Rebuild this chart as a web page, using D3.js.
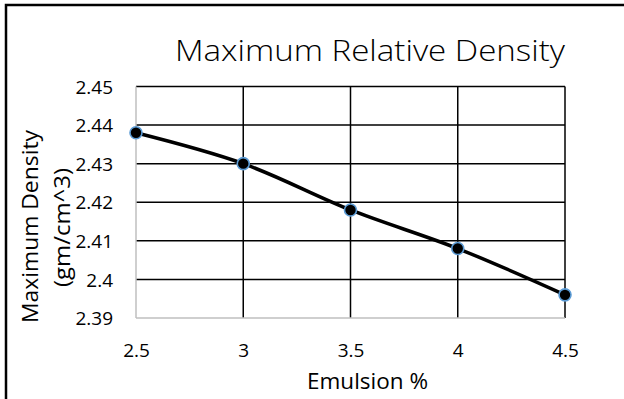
<!DOCTYPE html>
<html>
<head>
<meta charset="utf-8">
<script src="https://cdn.jsdelivr.net/npm/d3@7"></script>
<style>
  html, body { margin: 0; padding: 0; background: #fff; }
  svg { display: block; }
  text { font-family: "Open Sans", sans-serif; fill: #000; }
  .tick-label { font-size: 19px; }
</style>
</head>
<body>
<svg id="chart" width="624" height="399"></svg>
<script>
// Emulsion content (%) against maximum relative density
const emulsion = [2.5, 3, 3.5, 4, 4.5];
const density = [2.438, 2.430, 2.418, 2.408, 2.396];
const xTicks = [2.5, 3, 3.5, 4, 4.5];
const yTicks = [2.39, 2.40, 2.41, 2.42, 2.43, 2.44, 2.45];

const W = 624, H = 399;
const plot = { left: 136, right: 565, top: 86.5, bottom: 318 };

const svg = d3.select("#chart");

// outer frame (right and bottom edges fall outside the page)
svg.append("rect")
  .attr("x", 6).attr("y", 5)
  .attr("width", W + 10).attr("height", H + 10)
  .attr("fill", "none").attr("stroke", "#000").attr("stroke-width", 2.5);

const x = d3.scaleLinear().domain([2.5, 4.5]).range([plot.left, plot.right]);
const y = d3.scaleLinear().domain([2.39, 2.45]).range([plot.bottom, plot.top]);

// horizontal gridlines
svg.append("g")
  .selectAll("line")
  .data(yTicks.filter(v => v > 2.39 + 1e-9))
  .join("line")
  .attr("x1", plot.left).attr("x2", plot.right)
  .attr("y1", d => y(d)).attr("y2", d => y(d))
  .attr("stroke", "#000").attr("stroke-width", 1.5);

// vertical gridlines
svg.append("g")
  .selectAll("line")
  .data(xTicks.filter(v => v > 2.5 + 1e-9))
  .join("line")
  .attr("x1", d => x(d)).attr("x2", d => x(d))
  .attr("y1", plot.top).attr("y2", plot.bottom)
  .attr("stroke", "#000").attr("stroke-width", 1.5);

// axis lines
const axisGrey = "#bfbfbf";
svg.append("line")
  .attr("x1", plot.left).attr("x2", plot.left)
  .attr("y1", plot.top).attr("y2", plot.bottom)
  .attr("stroke", axisGrey).attr("stroke-width", 1.5);
svg.append("line")
  .attr("x1", plot.left).attr("x2", plot.right)
  .attr("y1", plot.bottom).attr("y2", plot.bottom)
  .attr("stroke", axisGrey).attr("stroke-width", 1.5);

// y tick labels
const yAxis = d3.axisLeft(y).tickValues(yTicks).tickSize(0).tickPadding(0)
  .tickFormat(d => d3.format("")(+d.toFixed(2)));
const gy = svg.append("g").attr("transform", `translate(${113},0)`).call(yAxis);
gy.select(".domain").remove();
gy.selectAll("text")
  .attr("class", "tick-label")
  .style("font-size", "19px")
  .attr("fill", "#000").attr("x", 0).attr("dy", "0.35em");

// x tick labels
const xAxis = d3.axisBottom(x).tickValues(xTicks).tickSize(0).tickPadding(0)
  .tickFormat(d => d3.format("")(d));
const gx = svg.append("g").attr("transform", `translate(0,${350})`).call(xAxis);
gx.select(".domain").remove();
gx.selectAll("text")
  .attr("class", "tick-label")
  .style("font-size", "19px")
  .attr("fill", "#000").attr("y", 0).attr("dy", "0.35em");

// data line
const line = d3.line()
  .x((d, i) => x(emulsion[i]))
  .y(d => y(d))
  .curve(d3.curveCatmullRom.alpha(0.5));
svg.append("path")
  .datum(density)
  .attr("d", line)
  .attr("fill", "none").attr("stroke", "#000").attr("stroke-width", 3.5)
  .attr("stroke-linejoin", "round");

// markers
svg.append("g")
  .selectAll("circle")
  .data(density)
  .join("circle")
  .attr("cx", (d, i) => x(emulsion[i]))
  .attr("cy", d => y(d))
  .attr("r", 6)
  .attr("fill", "#000").attr("stroke", "#5b9bd5").attr("stroke-width", 1.6);

// titles
svg.append("text")
  .attr("x", 175).attr("y", 61)
  .attr("font-size", 30).attr("font-weight", 300)
  .attr("textLength", 390).attr("lengthAdjust", "spacingAndGlyphs")
  .text("Maximum Relative Density");

svg.append("text")
  .attr("x", 307).attr("y", 389)
  .attr("font-size", 21)
  .attr("textLength", 121).attr("lengthAdjust", "spacingAndGlyphs")
  .text("Emulsion %");

svg.append("text")
  .attr("transform", "translate(37.5,323) rotate(-90)")
  .attr("font-size", 22)
  .attr("textLength", 193).attr("lengthAdjust", "spacingAndGlyphs")
  .text("Maximum Density");

svg.append("text")
  .attr("transform", "translate(70,287) rotate(-90)")
  .attr("font-size", 22)
  .attr("textLength", 119).attr("lengthAdjust", "spacingAndGlyphs")
  .text("(gm/cm^3)");
</script>
</body>
</html>
